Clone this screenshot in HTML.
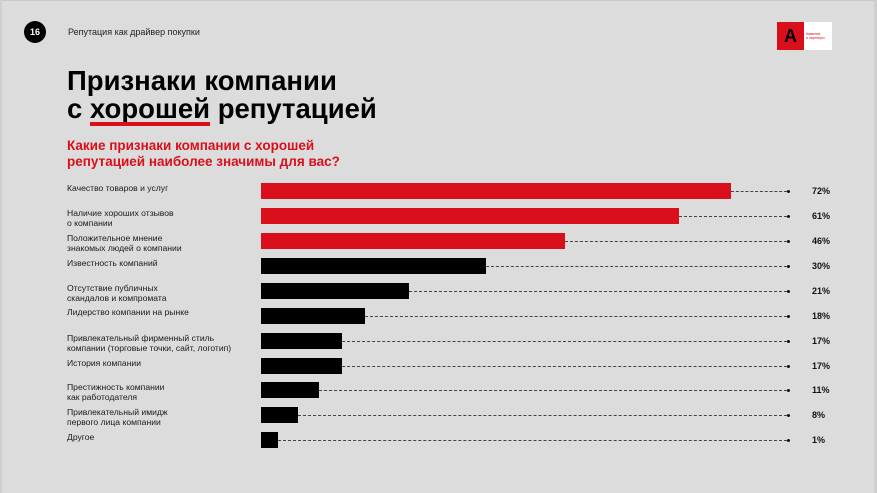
<!DOCTYPE html>
<html><head><meta charset="utf-8"><style>
body{margin:0;width:877px;height:493px;background:#dcdcdc;position:relative;overflow:hidden;font-family:"Liberation Sans",Arial,sans-serif;color:#111}
.a{position:absolute}
.lbl{position:absolute;left:67px;font-size:8.6px;line-height:10px;color:#1a1a1a}
.bar{position:absolute;left:261px;height:16px}
.dash{position:absolute;border-top:1px dashed #444;height:0}
.dot{position:absolute;left:787px;width:3px;height:3px;background:#111;border-radius:50%}
.pct{position:absolute;left:812px;font-size:9px;font-weight:bold}
</style></head><body>
<div class="a" style="left:0;top:0;width:877px;height:1px;background:#c8c8c8"></div>
<div class="a" style="left:0;top:0;width:2px;height:493px;background:#cfcfcf"></div>
<div class="a" style="left:874px;top:0;width:3px;height:493px;background:#cfcfcf"></div>
<div class="a" style="left:24px;top:21px;width:22px;height:22px;border-radius:50%;background:#000;color:#fff;font-size:9px;font-weight:bold;text-align:center;line-height:22px">16</div>
<div class="a" style="left:68px;top:27px;font-size:9px;color:#222">Репутация как драйвер покупки</div>
<div class="a" style="left:777px;top:22px;width:27px;height:28px;background:#d90f1b;color:#000;font-size:18px;font-weight:bold;line-height:28px;text-align:center">A</div>
<div class="a" style="left:804px;top:22px;width:28px;height:28px;background:#fff;color:#d90f1b;font-size:3.5px;line-height:4px;padding-top:10px;box-sizing:border-box;padding-left:2px">Каменев<br>и партнеры</div>
<div class="a" style="left:67px;top:67px;font-size:27.5px;font-weight:bold;line-height:28px;color:#000">Признаки компании<br>с хорошей репутацией</div>
<div class="a" style="left:90px;top:122px;width:120px;height:4px;background:#d90f1b"></div>
<div class="a" style="left:67px;top:138px;font-size:13.5px;font-weight:bold;line-height:16px;color:#d90f1b">Какие признаки компании с хорошей<br>репутацией наиболее значимы для вас?</div>

<div class="lbl" style="top:183px">Качество товаров и услуг</div>
<div class="bar" style="top:183px;width:470px;background:#d90f1b"></div>
<div class="dash" style="left:731px;width:56px;top:191px"></div><div class="dot" style="top:190px"></div>
<div class="pct" style="top:186px">72%</div>

<div class="lbl" style="top:208px">Наличие хороших отзывов<br>о компании</div>
<div class="bar" style="top:208px;width:418px;background:#d90f1b"></div>
<div class="dash" style="left:679px;width:108px;top:216px"></div><div class="dot" style="top:215px"></div>
<div class="pct" style="top:211px">61%</div>

<div class="lbl" style="top:233px">Положительное мнение<br>знакомых людей о компании</div>
<div class="bar" style="top:233px;width:304px;background:#d90f1b"></div>
<div class="dash" style="left:565px;width:222px;top:241px"></div><div class="dot" style="top:240px"></div>
<div class="pct" style="top:236px">46%</div>

<div class="lbl" style="top:258px">Известность компаний</div>
<div class="bar" style="top:258px;width:225px;background:#000"></div>
<div class="dash" style="left:486px;width:301px;top:266px"></div><div class="dot" style="top:265px"></div>
<div class="pct" style="top:261px">30%</div>

<div class="lbl" style="top:283px">Отсутствие публичных<br>скандалов и компромата</div>
<div class="bar" style="top:283px;width:148px;background:#000"></div>
<div class="dash" style="left:409px;width:378px;top:291px"></div><div class="dot" style="top:290px"></div>
<div class="pct" style="top:286px">21%</div>

<div class="lbl" style="top:307px">Лидерство компании на рынке</div>
<div class="bar" style="top:308px;width:104px;background:#000"></div>
<div class="dash" style="left:365px;width:422px;top:316px"></div><div class="dot" style="top:315px"></div>
<div class="pct" style="top:311px">18%</div>

<div class="lbl" style="top:333px">Привлекательный фирменный стиль<br>компании (торговые точки, сайт, логотип)</div>
<div class="bar" style="top:333px;width:81px;background:#000"></div>
<div class="dash" style="left:342px;width:445px;top:341px"></div><div class="dot" style="top:340px"></div>
<div class="pct" style="top:336px">17%</div>

<div class="lbl" style="top:358px">История компании</div>
<div class="bar" style="top:358px;width:81px;background:#000"></div>
<div class="dash" style="left:342px;width:445px;top:366px"></div><div class="dot" style="top:365px"></div>
<div class="pct" style="top:361px">17%</div>

<div class="lbl" style="top:382px">Престижность компании<br>как работодателя</div>
<div class="bar" style="top:382px;width:58px;background:#000"></div>
<div class="dash" style="left:319px;width:468px;top:390px"></div><div class="dot" style="top:389px"></div>
<div class="pct" style="top:385px">11%</div>

<div class="lbl" style="top:407px">Привлекательный имидж<br>первого лица компании</div>
<div class="bar" style="top:407px;width:37px;background:#000"></div>
<div class="dash" style="left:298px;width:489px;top:415px"></div><div class="dot" style="top:414px"></div>
<div class="pct" style="top:410px">8%</div>

<div class="lbl" style="top:432px">Другое</div>
<div class="bar" style="top:432px;width:17px;background:#000"></div>
<div class="dash" style="left:278px;width:509px;top:440px"></div><div class="dot" style="top:439px"></div>
<div class="pct" style="top:435px">1%</div>
</body></html>
